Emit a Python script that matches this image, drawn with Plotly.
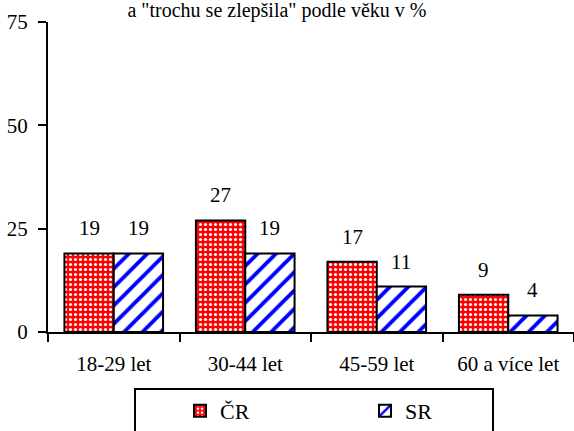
import plotly.graph_objects as go

# data
categories = ["18-29 let", "30-44 let", "45-59 let", "60 a více let"]
cr_values = [19, 27, 17, 9]
sr_values = [19, 19, 11, 4]
y_ticks = [0, 25, 50, 75]
title_text = 'a "trochu se zlepšila" podle věku v %'

FONT = "Liberation Serif, Times New Roman, serif"
txt = dict(family=FONT, size=21, color="black")

fig = go.Figure()

fig.add_trace(go.Bar(
    name="ČR",
    x=categories,
    y=cr_values,
    marker=dict(
        color="red",
        line=dict(color="black", width=2),
        pattern=dict(shape=".", fgcolor="white", bgcolor="red",
                     size=5, solidity=0.3, fillmode="replace"),
    ),
))

fig.add_trace(go.Bar(
    name="SR",
    x=categories,
    y=sr_values,
    marker=dict(
        color="white",
        line=dict(color="black", width=2),
        pattern=dict(shape="/", fgcolor="blue", bgcolor="white",
                     size=13, solidity=0.3, fillmode="replace"),
    ),
))

# value labels above the bars
for cat, v in zip(categories, cr_values):
    fig.add_annotation(x=cat, y=v, text=str(v), showarrow=False,
                       xshift=-24.6, yshift=25, yanchor="middle", font=txt)
for cat, v in zip(categories, sr_values):
    fig.add_annotation(x=cat, y=v, text=str(v), showarrow=False,
                       xshift=24.6, yshift=25, yanchor="middle", font=txt)

# legend frame
fig.add_shape(type="rect", xref="paper", yref="paper",
              x0=0.1654, x1=0.846, y0=-0.1836, y1=-0.40,
              line=dict(color="black", width=2), fillcolor="rgba(0,0,0,0)")

fig.update_layout(
    width=574,
    height=431,
    margin=dict(l=48, r=0, t=21.5, b=99, autoexpand=False),
    paper_bgcolor="white",
    plot_bgcolor="white",
    font=txt,
    barmode="group",
    bargap=0.25,
    bargroupgap=0,
    title=dict(text=title_text, x=277 / 574, xanchor="center",
               y=1 - 10 / 431, yanchor="middle", automargin=False,
               font=dict(family=FONT, size=20, color="black")),
    showlegend=True,
    legend=dict(
        orientation="h",
        x=(180 - 48) / 526, xanchor="left",
        y=(332 - 411) / 310.5, yanchor="middle",
        entrywidth=140,
        bgcolor="rgba(0,0,0,0)",
        font=dict(family=FONT, size=22, color="black"),
    ),
    xaxis=dict(
        automargin=False,
        showline=True, linecolor="black", linewidth=2,
        ticks="outside", tickson="boundaries", ticklen=8,
        tickwidth=2, tickcolor="black",
        ticklabelstandoff=12, tickfont=txt,
        showgrid=False, zeroline=False,
    ),
    yaxis=dict(
        automargin=False,
        range=[0, 75],
        tickvals=y_ticks,
        showline=True, linecolor="black", linewidth=2,
        ticks="outside", ticklen=8, tickwidth=2, tickcolor="black",
        ticklabelstandoff=6, tickfont=txt,
        showgrid=False, zeroline=False,
    ),
)

fig.write_html("out.html", config={"displayModeBar": False},
               post_script="document.body.style.margin='0px';")
